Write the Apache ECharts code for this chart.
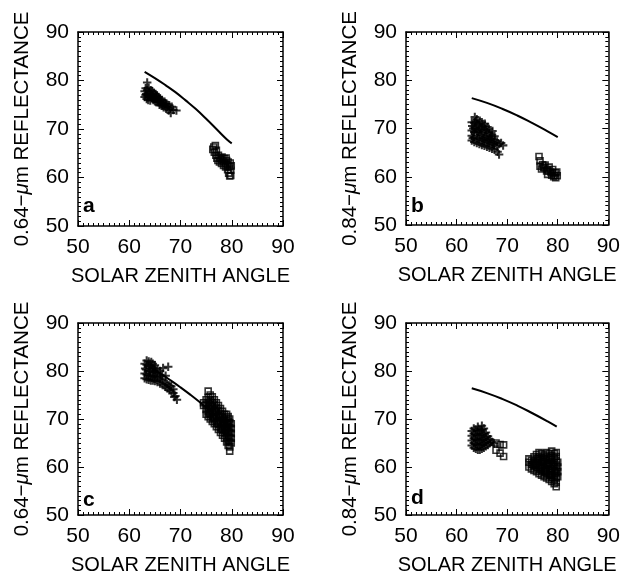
<!DOCTYPE html>
<html>
<head>
<meta charset="utf-8">
<script src="https://cdn.jsdelivr.net/npm/echarts@6/dist/echarts.min.js"></script>
<style>
  html, body { margin: 0; padding: 0; background: #fff; }
  #chart { width: 623px; height: 576px; }
</style>
</head>
<body>
<div id="chart"></div>
<script>
// panel a: 0.64 um, b: 0.84 um (top row); c, d: bottom row
var curveA = [[63.0, 81.8], [65, 80.5], [67, 79.1], [69, 77.6], [71, 75.9], [73, 74.1], [75, 72.1], [77, 70.0], [79, 67.9], [80, 67.05]];
var curveB = [[63.0, 76.3], [66, 75.3], [69, 74.1], [72, 72.7], [75, 71.1], [78, 69.4], [80, 68.2]];
var curveC = [[64, 80.8], [66, 79.5], [68, 78.1], [70, 76.6], [72, 75.0], [74, 73.3], [76, 71.5], [78, 69.6], [80, 67.6]];
var curveD = [[63.0, 76.4], [66, 75.4], [69, 74.2], [72, 72.8], [75, 71.2], [78, 69.5], [79.8, 68.4]];

var plusA = [[63.0, 77.8], [63.0, 76.6], [63.2, 78.4], [63.3, 77.2], [63.4, 76.2], [63.5, 79.6], [63.5, 78.0], [63.6, 77.0],
  [63.7, 76.0], [63.8, 78.5], [63.9, 77.6], [64.0, 76.6], [64.1, 75.9], [64.2, 78.0], [64.3, 77.2], [64.4, 76.4], [64.5, 77.8],
  [64.6, 76.9], [64.7, 76.0], [64.8, 77.5], [64.9, 76.6], [65.0, 75.7], [65.1, 77.2], [65.2, 76.3], [65.3, 75.5], [65.4, 76.9],
  [65.5, 76.0], [65.7, 76.6], [65.8, 75.6], [65.9, 75.0], [66.0, 76.3], [66.2, 75.5], [66.3, 74.8], [66.4, 76.0], [66.6, 75.3],
  [66.7, 74.5], [66.9, 75.6], [67.0, 74.8], [67.2, 74.2], [67.3, 75.2], [67.5, 74.5], [67.7, 73.8], [67.8, 74.9], [68.0, 74.2],
  [68.1, 73.3], [68.3, 74.6], [68.6, 73.9], [69.2, 73.8],
  [63.2, 77.0], [63.6, 76.6], [64.0, 77.3], [64.4, 77.0], [64.8, 76.3], [65.2, 76.8], [65.6, 75.6], [66.1, 75.9], [66.5, 74.9], [67.1, 75.2]];
var squareA = [[76.3, 65.8], [76.5, 66.3], [76.6, 65.2], [76.8, 66.6], [76.9, 64.6], [77.0, 65.6], [77.1, 64.0], [77.3, 63.5],
  [77.4, 64.6], [77.6, 63.2], [77.7, 64.0], [77.9, 63.7], [78.0, 62.9], [78.1, 64.2], [78.3, 63.4], [78.4, 62.5], [78.5, 63.9],
  [78.7, 63.0], [78.8, 62.2], [78.9, 64.0], [79.0, 63.5], [79.1, 62.6], [79.2, 61.6], [79.3, 63.2], [79.4, 60.9], [79.5, 62.3],
  [79.6, 60.3], [79.7, 63.0], [79.8, 61.5], [79.8, 60.4], [79.9, 62.4]];

var plusB = [[63.0, 67.5], [63.0, 68.5], [63.0, 69.6], [63.1, 70.5], [63.0, 71.3],
  [63.5, 67.2], [63.4, 68.2], [63.5, 69.3], [63.6, 70.2], [63.5, 71.2], [63.6, 72.4],
  [64.0, 67.0], [64.1, 68.0], [64.0, 69.1], [63.9, 70.0], [64.1, 71.0], [64.0, 71.9],
  [64.5, 66.8], [64.4, 67.8], [64.6, 68.8], [64.5, 69.8], [64.4, 70.8], [64.6, 71.6],
  [65.0, 66.6], [65.1, 67.6], [64.9, 68.6], [65.0, 69.7], [65.1, 70.6], [65.0, 71.3],
  [65.5, 66.4], [65.4, 67.4], [65.6, 68.4], [65.5, 69.4], [65.4, 70.4], [65.6, 71.0],
  [66.0, 66.2], [66.1, 67.2], [65.9, 68.2], [66.0, 69.2], [66.1, 70.3],
  [66.5, 66.0], [66.4, 67.0], [66.6, 68.0], [66.5, 69.0], [66.4, 69.9],
  [67.0, 65.8], [67.1, 66.8], [66.9, 67.8], [67.0, 68.7], [67.1, 69.5],
  [67.5, 65.6], [67.4, 66.6], [67.6, 67.6], [67.5, 68.4],
  [68.0, 66.3], [68.0, 67.3], [68.1, 65.2], [68.4, 64.6], [68.4, 66.8], [68.8, 67.0], [69.2, 66.5],
  [63.2, 68.0], [63.3, 70.0], [63.8, 71.5], [64.3, 69.3], [64.8, 70.2], [65.3, 68.0], [65.8, 69.8], [66.3, 67.6], [66.8, 68.4], [67.3, 67.2]];
var squareB = [[76.3, 64.2], [76.5, 63.3], [76.5, 62.2], [76.8, 61.6], [77.0, 62.5], [77.3, 61.8], [77.5, 62.4], [77.8, 61.2],
  [78.0, 61.5], [78.0, 60.5], [78.3, 62.0], [78.6, 61.0], [78.8, 60.3], [79.0, 61.5], [79.2, 60.0], [79.5, 60.8], [79.6, 59.8],
  [79.8, 61.0], [79.9, 60.2], [77.2, 62.0], [78.2, 61.2], [78.9, 60.8], [79.4, 60.3]];

var plusC = [[63.0, 78.5], [63.0, 79.5], [63.1, 80.5], [63.0, 81.5],
  [63.4, 78.3], [63.4, 79.3], [63.3, 80.3], [63.4, 81.3], [63.4, 82.2],
  [63.8, 78.2], [63.8, 79.1], [63.9, 80.1], [63.8, 81.1], [63.8, 82.0],
  [64.2, 78.0], [64.2, 79.0], [64.1, 80.0], [64.2, 81.0], [64.3, 81.9],
  [64.6, 78.0], [64.6, 78.9], [64.7, 79.8], [64.6, 80.7], [64.6, 81.5],
  [65.0, 77.9], [65.0, 78.8], [65.1, 79.7], [65.0, 80.5], [65.0, 81.2],
  [65.5, 77.7], [65.5, 78.6], [65.4, 79.5], [65.5, 80.3],
  [66.0, 77.4], [66.0, 78.3], [66.1, 79.2], [66.0, 80.0],
  [66.5, 77.1], [66.5, 78.0], [66.4, 78.9], [66.6, 80.6],
  [67.0, 76.7], [67.0, 77.6], [67.1, 79.0], [67.6, 80.9],
  [67.4, 76.4], [67.4, 77.3], [67.8, 76.0], [67.8, 77.0], [68.2, 75.8], [68.2, 76.8],
  [68.6, 75.4], [68.6, 76.2], [69.0, 74.8], [68.8, 74.6], [69.3, 74.0]];
var squareC = [[74.5, 72.8], [74.5, 73.4],
  [75.0, 71.0], [75.0, 72.0], [75.0, 73.0], [75.0, 74.0],
  [75.4, 70.5], [75.4, 71.5], [75.4, 72.5], [75.4, 73.5], [75.4, 74.5], [75.4, 75.8],
  [75.8, 70.0], [75.8, 71.0], [75.8, 72.0], [75.8, 73.0], [75.8, 74.0], [75.8, 75.0],
  [76.2, 69.5], [76.2, 70.5], [76.2, 71.5], [76.2, 72.5], [76.2, 73.5], [76.2, 74.6],
  [76.6, 69.0], [76.6, 70.0], [76.6, 71.0], [76.6, 72.0], [76.6, 73.0], [76.6, 74.0],
  [77.0, 68.4], [77.0, 69.4], [77.0, 70.4], [77.0, 71.4], [77.0, 72.4], [77.0, 73.4],
  [77.4, 67.8], [77.4, 68.8], [77.4, 69.8], [77.4, 70.8], [77.4, 71.8], [77.4, 72.8],
  [77.8, 67.2], [77.8, 68.2], [77.8, 69.2], [77.8, 70.2], [77.8, 71.2], [77.8, 72.2],
  [78.2, 66.6], [78.2, 67.6], [78.2, 68.6], [78.2, 69.6], [78.2, 70.6], [78.2, 71.6],
  [78.6, 66.0], [78.6, 67.0], [78.6, 68.0], [78.6, 69.0], [78.6, 70.0], [78.6, 71.0],
  [79.0, 65.2], [79.0, 66.2], [79.0, 67.2], [79.0, 68.2], [79.0, 69.2], [79.0, 70.2], [79.0, 71.0],
  [79.3, 64.5], [79.3, 65.5], [79.3, 66.5], [79.3, 67.5], [79.3, 68.5], [79.3, 69.5], [79.3, 70.5],
  [79.6, 63.3], [79.6, 64.2], [79.6, 65.2], [79.6, 66.2], [79.6, 67.2], [79.6, 68.2], [79.6, 69.2], [79.6, 70.0],
  [79.9, 65.0], [79.9, 66.0], [79.9, 67.0], [79.9, 68.0], [79.9, 69.0],
  [75.6, 71.2], [76.0, 72.7], [76.4, 70.2], [76.8, 71.6], [77.2, 69.1], [77.6, 70.5], [78.0, 68.0], [78.4, 69.3], [78.8, 67.6], [79.2, 68.9]];

var plusD = [[63.0, 64.5], [63.0, 65.5], [63.0, 66.5], [63.0, 67.5],
  [63.4, 64.0], [63.4, 65.0], [63.4, 66.0], [63.4, 67.0], [63.4, 68.0],
  [63.8, 63.8], [63.8, 64.8], [63.8, 65.8], [63.8, 66.8], [63.8, 67.8],
  [64.2, 63.6], [64.2, 64.6], [64.2, 65.6], [64.2, 66.6], [64.2, 67.6], [64.2, 68.4],
  [64.6, 63.6], [64.6, 64.6], [64.6, 65.6], [64.6, 66.6], [64.6, 67.6],
  [65.0, 63.8], [65.0, 64.8], [65.0, 65.8], [65.0, 66.8], [65.0, 67.8], [65.0, 68.6],
  [65.4, 64.0], [65.4, 65.0], [65.4, 66.0], [65.4, 67.0], [65.4, 68.0],
  [65.8, 64.3], [65.8, 65.2], [65.8, 66.2], [65.8, 67.2],
  [66.2, 64.6], [66.2, 65.5], [66.2, 66.4], [66.6, 65.0], [66.6, 65.8], [67.0, 65.2], [67.4, 64.9]];
var squareD = [[67.8, 65.0], [68.6, 64.7], [69.3, 64.6], [67.8, 63.5], [68.6, 62.9], [69.3, 62.2],
  [74.3, 60.0], [74.3, 61.0], [74.3, 61.7],
  [74.8, 59.6], [74.8, 60.5], [74.8, 61.4],
  [75.3, 59.3], [75.3, 60.2], [75.3, 61.1], [75.3, 62.1],
  [75.8, 59.0], [75.8, 59.9], [75.8, 60.8], [75.8, 61.7], [75.8, 62.6],
  [76.3, 58.6], [76.3, 59.5], [76.3, 60.4], [76.3, 61.3], [76.3, 62.2], [76.3, 63.0],
  [76.8, 58.3], [76.8, 59.2], [76.8, 60.1], [76.8, 61.0], [76.8, 61.9], [76.8, 62.8],
  [77.3, 58.0], [77.3, 58.9], [77.3, 59.8], [77.3, 60.7], [77.3, 61.6], [77.3, 62.5],
  [77.8, 57.7], [77.8, 58.6], [77.8, 59.5], [77.8, 60.4], [77.8, 61.3], [77.8, 62.2], [77.8, 63.0],
  [78.3, 57.4], [78.3, 58.3], [78.3, 59.2], [78.3, 60.1], [78.3, 61.0], [78.3, 61.9], [78.3, 62.8],
  [78.8, 57.0], [78.8, 57.9], [78.8, 58.8], [78.8, 59.7], [78.8, 60.6], [78.8, 61.5], [78.8, 62.4], [78.8, 63.3],
  [79.3, 56.5], [79.3, 57.4], [79.3, 58.3], [79.3, 59.2], [79.3, 60.1], [79.3, 61.0], [79.3, 61.9], [79.3, 62.8],
  [79.7, 55.9], [79.7, 56.8], [79.7, 57.7], [79.7, 58.6], [79.7, 59.5], [79.7, 60.4], [79.7, 61.3], [79.7, 62.2], [79.7, 63.0],
  [80.0, 58.0], [80.0, 59.0], [80.0, 60.0], [80.0, 61.0],
  [75.1, 60.6], [75.6, 60.3], [76.1, 61.8], [76.6, 59.8], [77.1, 61.2], [77.6, 59.1], [78.1, 60.6], [78.6, 58.4], [79.1, 60.5], [79.5, 58.9]];

var panelLetters = ['a', 'b', 'c', 'd'];
var yTitles = ['0.64', '0.84', '0.64', '0.84'];
var xTitle = 'SOLAR ZENITH ANGLE';

var FONT = 'Liberation Sans';
var PLUS = 'path://M3.8,0H6.2V3.8H10V6.2H6.2V10H3.8V6.2H0V3.8H3.8Z';

var grids = [
  { left: 78, top: 32, width: 205, height: 194 },
  { left: 406, top: 32, width: 205, height: 193 },
  { left: 78, top: 323, width: 205, height: 194 },
  { left: 406, top: 323, width: 206, height: 194 }
];

function xAxisFor(gi, pos) {
  var bottom = pos === 'bottom';
  return {
    gridIndex: gi, type: 'value', position: pos, min: 50, max: 90, interval: 10,
    axisLine: { show: true, onZero: false, lineStyle: { color: '#000', width: 1.5 } },
    axisTick: { show: true, inside: true, length: 6, lineStyle: { color: '#000' } },
    minorTick: { show: true, splitNumber: 10, length: 3, lineStyle: { color: '#000' } },
    splitLine: { show: false },
    axisLabel: { show: bottom, color: '#000', fontFamily: FONT, fontSize: 21, margin: 11 },
    name: bottom ? xTitle : '', nameLocation: 'middle', nameGap: 40,
    nameTextStyle: { color: '#000', fontFamily: FONT, fontSize: 20 }
  };
}

function yAxisFor(gi, pos) {
  var left = pos === 'left';
  return {
    gridIndex: gi, type: 'value', position: pos, min: 50, max: 90, interval: 10,
    axisLine: { show: true, onZero: false, lineStyle: { color: '#000', width: 1.5 } },
    axisTick: { show: true, inside: true, length: 6, lineStyle: { color: '#000' } },
    minorTick: { show: true, splitNumber: 10, length: 3, lineStyle: { color: '#000' } },
    splitLine: { show: false },
    axisLabel: { show: left, color: '#000', fontFamily: FONT, fontSize: 21, margin: 9 },
    name: left ? '{t|' + yTitles[gi] + '\u2212}{mu|\u03bc}{t|m REFLECTANCE}' : '',
    nameLocation: 'middle', nameGap: 45, nameRotate: 90,
    nameTextStyle: {
      rich: {
        t: { color: '#000', fontFamily: FONT, fontSize: 20.5 },
        mu: { color: '#000', fontFamily: FONT, fontSize: 20.5, fontStyle: 'italic' }
      }
    }
  };
}

var xAxes = [], yAxes = [];
for (var g = 0; g < 4; g++) {
  xAxes.push(xAxisFor(g, 'bottom'));
  xAxes.push(xAxisFor(g, 'top'));
  yAxes.push(yAxisFor(g, 'left'));
  yAxes.push(yAxisFor(g, 'right'));
}

var curves = [curveA, curveB, curveC, curveD];
var pluses = [plusA, plusB, plusC, plusD];
var squares = [squareA, squareB, squareC, squareD];

var series = [];
for (var i = 0; i < 4; i++) {
  series.push({
    type: 'scatter', xAxisIndex: i * 2, yAxisIndex: i * 2, data: pluses[i],
    symbol: PLUS, symbolSize: 8.5, itemStyle: { color: '#000' }, silent: true
  });
  series.push({
    type: 'scatter', xAxisIndex: i * 2, yAxisIndex: i * 2, data: squares[i],
    symbol: 'rect', symbolSize: 6,
    itemStyle: { color: 'rgba(0,0,0,0)', borderColor: '#000', borderWidth: 1.6 }, silent: true
  });
  series.push({
    type: 'line', xAxisIndex: i * 2, yAxisIndex: i * 2, data: curves[i],
    smooth: true, symbol: 'none', lineStyle: { color: '#000', width: 2 }, silent: true
  });
}

var letterPos = [[83, 196], [411, 196], [83, 490], [411, 488]];
var graphics = panelLetters.map(function (t, k) {
  return {
    type: 'text', left: letterPos[k][0], top: letterPos[k][1],
    style: { text: t, font: 'bold 21px "' + FONT + '"', fill: '#000' }
  };
});

var chart = echarts.init(document.getElementById('chart'));
chart.setOption({
  animation: false,
  backgroundColor: '#fff',
  grid: grids,
  xAxis: xAxes,
  yAxis: yAxes,
  series: series,
  graphic: graphics
});
</script>
</body>
</html>
